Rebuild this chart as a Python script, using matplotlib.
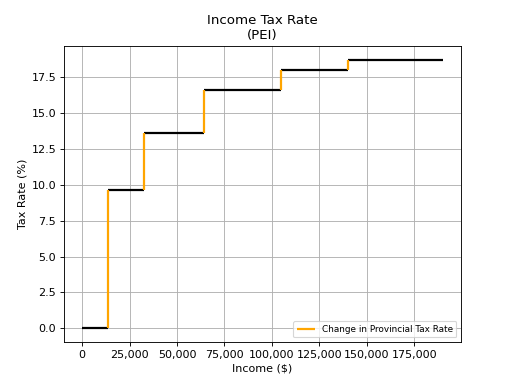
import matplotlib
matplotlib.use("Agg")
import matplotlib.pyplot as plt
from matplotlib.ticker import FuncFormatter

# PEI bracket thresholds and rates
thresholds = [0, 13500, 32656, 64313, 105000, 140000, 190000]
rates = [0.0, 9.65, 13.63, 16.65, 18.0, 18.75]

fig, ax = plt.subplots(figsize=(6.4, 4.8), dpi=80)

for i, r in enumerate(rates):
    ax.hlines(r, thresholds[i], thresholds[i + 1], color='black', linewidth=2)

for i in range(1, len(rates)):
    ax.vlines(thresholds[i], rates[i - 1], rates[i], color='orange', linewidth=2,
              label='Change in Provincial Tax Rate' if i == 1 else None)

ax.xaxis.set_major_formatter(FuncFormatter(lambda v, p: f'{v:,.0f}'))
ax.set_title('Income Tax Rate\n(PEI)')
ax.set_xlabel('Income ($)')
ax.set_ylabel('Tax Rate (%)')
ax.grid(True)
ax.set_axisbelow(True)
ax.legend(loc='lower right', fontsize=8)

plt.savefig('out.png')
